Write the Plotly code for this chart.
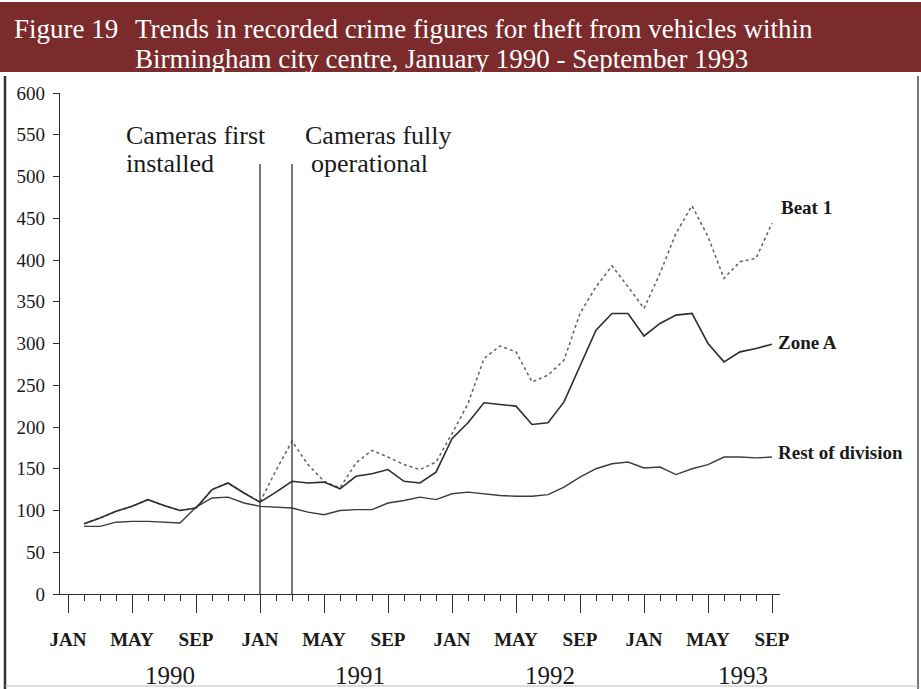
import plotly.graph_objects as go

# Months indexed from Jan 1990 = 0; data runs Feb 1990 (1) to Sep 1993 (44)
months = list(range(1, 45))

zone_a = [84, 91, 99, 105, 113, 106, 100, 103, 125, 133, 121, 110,
          122, 135, 133, 134, 126, 141, 144, 149, 135, 133, 146, 186,
          205, 229, 227, 225, 203, 205, 230, 272, 316, 336, 336, 309,
          324, 334, 336, 300, 278, 290, 294, 299]

beat_1 = [84, 91, 99, 105, 113, 106, 100, 103, 125, 133, 121, 110,
          148, 183, 155, 135, 127, 157, 172, 164, 155, 149, 158, 192,
          228, 282, 297, 290, 254, 262, 280, 336, 368, 393, 368, 342,
          384, 432, 465, 428, 378, 398, 402, 444]

rest_div = [81, 81, 86, 87, 87, 86, 85, 104, 115, 116, 109, 105,
            104, 103, 98, 95, 100, 101, 101, 109, 112, 116, 113, 120,
            122, 120, 118, 117, 117, 119, 128, 140, 150, 156, 158, 151,
            152, 143, 150, 155, 164, 164, 163, 164]

tick_months = list(range(0, 45, 4))
tick_text = ["JAN", "MAY", "SEP"] * 4
tick_text = tick_text[:len(tick_months)]

years = ["1990", "1991", "1992", "1993"]
year_pos = [6.4, 18.25, 30.1, 42.2]

FONT = "Liberation Serif"
INK = "#2b2b2b"

fig = go.Figure()
fig.add_trace(go.Scatter(x=months, y=rest_div, mode="lines", name="Rest of division",
                         line=dict(color="#3c3c3c", width=1.4)))
fig.add_trace(go.Scatter(x=months, y=beat_1, mode="lines", name="Beat 1",
                         line=dict(color="#606060", width=1.5, dash="dot")))
fig.add_trace(go.Scatter(x=months, y=zone_a, mode="lines", name="Zone A",
                         line=dict(color="#2e2e2e", width=1.6)))

W, H = 921, 689
L, R, T, B = 60, 780, 93, 594
pw, ph = R - L, B - T

def px(xp):
    return (xp - L) / pw

def py(yp):
    return (B - yp) / ph

shapes = [
    # title bar
    dict(type="rect", xref="paper", yref="paper", x0=px(0), x1=px(W), y0=py(72), y1=py(2),
         fillcolor="#7b2b2b", line=dict(width=0), layer="below"),
    # frame lines
    dict(type="line", xref="paper", yref="paper", x0=px(5), x1=px(5), y0=py(76), y1=py(689),
         line=dict(color="#333333", width=2.5)),
    dict(type="line", xref="paper", yref="paper", x0=px(918), x1=px(918), y0=py(76), y1=py(689),
         line=dict(color="#777777", width=2)),
    dict(type="line", xref="paper", yref="paper", x0=px(5), x1=px(918), y0=py(686), y1=py(686),
         line=dict(color="#bbbbbb", width=1)),
    # camera markers
    dict(type="line", xref="x", yref="y", x0=12, x1=12, y0=0, y1=515,
         line=dict(color="#333333", width=1.3)),
    dict(type="line", xref="x", yref="y", x0=14, x1=14, y0=0, y1=515,
         line=dict(color="#333333", width=1.3)),
]

TF = dict(family=FONT, size=27, color="white")
CF = dict(family=FONT, size=26, color="#1a1a1a")
LF = dict(family=FONT, size=19, color="#1a1a1a")
annotations = [
    dict(text="Figure 19", xref="paper", yref="paper", x=px(12), y=py(29),
         xanchor="left", yanchor="middle", showarrow=False, font=TF),
    dict(text="Trends in recorded crime figures for theft from vehicles within", xref="paper", yref="paper",
         x=px(133), y=py(29), xanchor="left", yanchor="middle", showarrow=False, font=TF),
    dict(text="Birmingham city centre, January 1990 - September 1993", xref="paper", yref="paper",
         x=px(133), y=py(59), xanchor="left", yanchor="middle", showarrow=False, font=TF),
    dict(text="Cameras first", xref="x", yref="paper", x=3.5, y=py(135),
         xanchor="left", yanchor="middle", showarrow=False, font=CF),
    dict(text="installed", xref="x", yref="paper", x=3.5, y=py(163),
         xanchor="left", yanchor="middle", showarrow=False, font=CF),
    dict(text="Cameras fully", xref="x", yref="paper", x=14.7, y=py(135),
         xanchor="left", yanchor="middle", showarrow=False, font=CF),
    dict(text="operational", xref="x", yref="paper", x=15.05, y=py(163),
         xanchor="left", yanchor="middle", showarrow=False, font=CF),
    dict(text="<b>Beat 1</b>", xref="x", yref="y", x=44.45, y=463,
         xanchor="left", yanchor="middle", showarrow=False, font=LF),
    dict(text="<b>Zone A</b>", xref="x", yref="y", x=44.25, y=301,
         xanchor="left", yanchor="middle", showarrow=False, font=LF),
    dict(text="<b>Rest of division</b>", xref="x", yref="y", x=44.25, y=170,
         xanchor="left", yanchor="middle", showarrow=False, font=LF),
]
for yr, pos in zip(years, year_pos):
    annotations.append(dict(text=yr, xref="x", yref="paper", x=pos, y=py(675),
                            xanchor="center", yanchor="middle", showarrow=False,
                            font=dict(family=FONT, size=25, color="#1a1a1a")))

fig.update_layout(
    width=W, height=H,
    margin=dict(l=L, r=W - R, t=T, b=H - B, pad=0),
    paper_bgcolor="white", plot_bgcolor="white",
    showlegend=False,
    shapes=shapes, annotations=annotations,
    font=dict(family=FONT, color="#1a1a1a"),
)
fig.update_xaxes(
    range=[-0.5, 44.5], showgrid=False, zeroline=False,
    showline=True, linecolor=INK, linewidth=1.3,
    tickmode="array", tickvals=tick_months, ticktext=tick_text,
    ticks="outside", ticklen=18, tickwidth=1.2, tickcolor=INK,
    ticklabelstandoff=10,
    tickfont=dict(family=FONT, size=19, color="#1a1a1a", weight="bold"),
    minor=dict(tickmode="linear", tick0=0, dtick=1, ticks="outside", ticklen=6,
               tickwidth=1.1, tickcolor=INK, showgrid=False),
)
fig.update_yaxes(
    range=[0, 600], showgrid=False, zeroline=False,
    showline=True, linecolor=INK, linewidth=1.3,
    tickmode="linear", tick0=0, dtick=50,
    ticks="outside", ticklen=6, tickwidth=1.1, tickcolor=INK,
    ticklabelstandoff=4,
    tickfont=dict(family=FONT, size=19, color="#1a1a1a"),
)

fig.write_html("out.html", config={"displayModeBar": False},
               post_script="document.body.style.margin='0';document.body.style.overflow='hidden';")
